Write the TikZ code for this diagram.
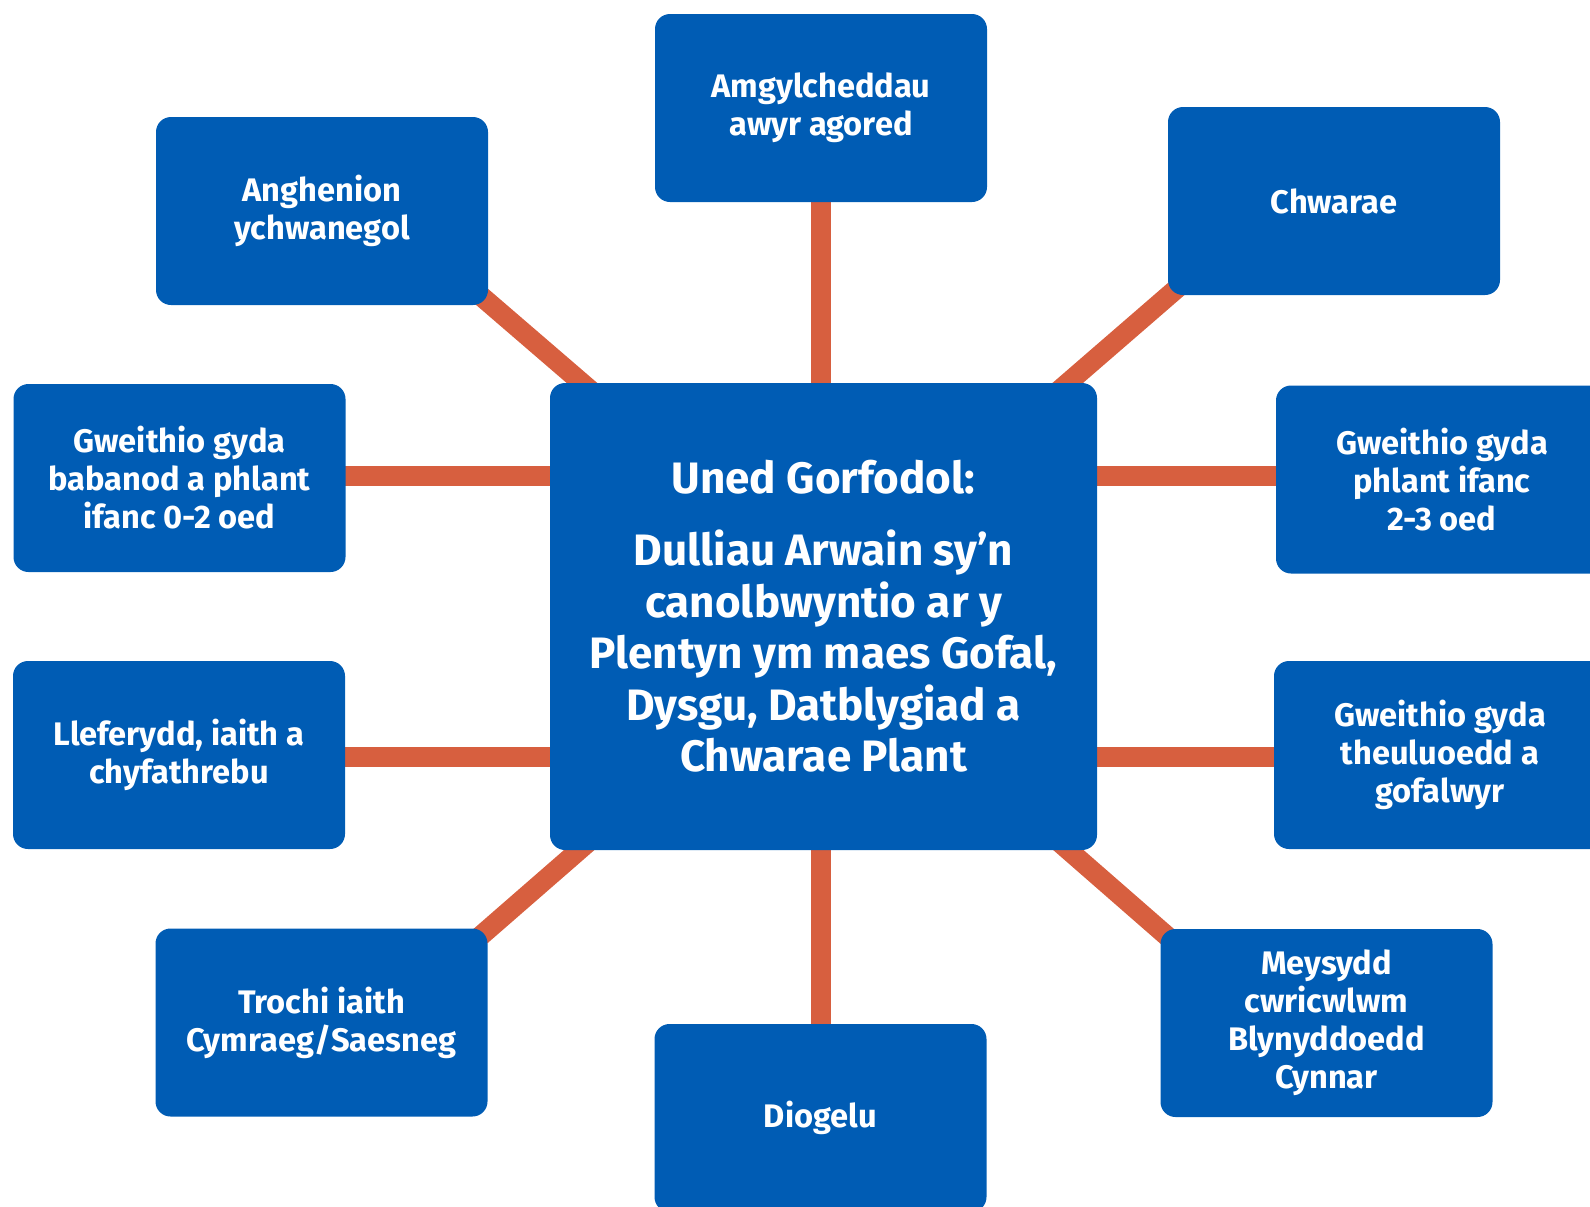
\documentclass[tikz,border=0pt]{standalone}
\usepackage{fontspec}
\setmainfont{Fira Sans}
\usetikzlibrary{calc,backgrounds}
\definecolor{boxblue}{RGB}{0,92,180}
\definecolor{linkorange}{RGB}{215,95,63}
\tikzset{
  outerbox/.style={fill=boxblue, rounded corners=7.5pt, minimum width=166pt,
    minimum height=94pt, text=white, align=center, inner sep=0pt,
    font=\fontsize{16.3}{19}\selectfont\bfseries},
  hubbox/.style={fill=boxblue, rounded corners=7.5pt, minimum width=273.5pt,
    minimum height=233.5pt, text=white, align=center, inner sep=0pt,
    font=\fontsize{22}{25.8}\selectfont\bfseries},
  link/.style={draw=linkorange, line width=10pt}
}
\begin{document}
\begin{tikzpicture}[x=0.5pt, y=-0.5pt]
\useasboundingbox (0,0) rectangle (1590,1206);
\clip (0,0) rectangle (1590,1206);
% nodes
\node[hubbox] (c) at (823.5,616.5) {Uned Gorfodol:\\[10pt]Dulliau Arwain sy’n\\canolbwyntio ar y\\Plentyn ym maes Gofal,\\Dysgu, Datblygiad a\\Chwarae Plant};
\node[outerbox] (top) at (821,108) {Amgylcheddau\\awyr agored};
\node[outerbox] (tl) at (322,211) {Anghenion\\ychwanegol};
\node[outerbox] (tr) at (1334,201) {Chwarae};
\node[outerbox] (l1) at (179.5,478) {Gweithio gyda\\babanod a phlant\\ifanc 0-2 oed};
\node[outerbox] (r1) at (1442,479.5) {Gweithio gyda\\phlant ifanc\\2-3 oed};
\node[outerbox] (l2) at (179,755) {Lleferydd, iaith a\\chyfathrebu};
\node[outerbox] (r2) at (1440,755) {Gweithio gyda\\theuluoedd a\\gofalwyr};
\node[outerbox] (bl) at (321.5,1022.5) {Trochi iaith\\Cymraeg/Saesneg};
\node[outerbox] (b) at (820.5,1118) {Diogelu};
\node[outerbox] (br) at (1326.5,1023) {Meysydd\\cwricwlwm\\Blynyddoedd\\Cynnar};
% connectors behind the boxes
\begin{scope}[on background layer]
  \draw[link] (top) -- (top |- c);
  \draw[link] (b) -- (b |- c);
  \draw[link] ($(l1.east)+(-20,-2)$) -- ($(l1.east -| c.west)+(20,-2)$);
  \draw[link] ($(r1.west)+(20,-4)$) -- ($(r1.west -| c.east)+(-20,-4)$);
  \draw[link] ($(l2.east)+(-20,2)$) -- ($(l2.east -| c.west)+(20,2)$);
  \draw[link] ($(r2.west)+(20,2)$) -- ($(r2.west -| c.east)+(-20,2)$);
  \draw[link] ($(tl.south east)+(-58,-53)$) -- ($(c.north west)+(90,50)$);
  \draw[link] ($(tr.south west)+(52,-44)$) -- ($(c.north east)+(-87,50)$);
  \draw[link] ($(bl.north east)+(-58,52)$) -- ($(c.south west)+(90,-53)$);
  \draw[link] ($(br.north west)+(59,53)$) -- ($(c.south east)+(-87,-51)$);
\end{scope}
\end{tikzpicture}
\end{document}
